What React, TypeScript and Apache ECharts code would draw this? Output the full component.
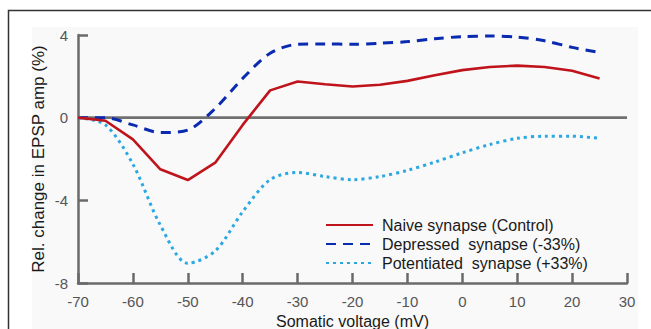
import React, { useEffect, useRef } from "react";
import * as echarts from "echarts";

const voltages = [-70, -65, -60, -55, -50, -45, -40, -35, -30, -25, -20, -15, -10, -5, 0, 5, 10, 15, 20, 25];
const naive = [0, -0.15, -1.05, -2.5, -3.02, -2.18, -0.35, 1.32, 1.75, 1.62, 1.51, 1.59, 1.78, 2.05, 2.3, 2.45, 2.52, 2.45, 2.27, 1.9];
const depressed = [0, 0, -0.35, -0.72, -0.6, 0.45, 1.9, 3.12, 3.55, 3.57, 3.55, 3.6, 3.68, 3.82, 3.92, 3.95, 3.9, 3.72, 3.4, 3.16];
const potentiated = [0, -0.35, -2.25, -5.2, -7.05, -6.45, -4.55, -3.0, -2.65, -2.85, -3.0, -2.85, -2.55, -2.15, -1.7, -1.3, -1.0, -0.9, -0.9, -1.0];
const zeroLine = [[-70, 0], [30, 0]];
const seriesNames = ["Naive synapse (Control)", "Depressed  synapse (-33%)", "Potentiated  synapse (+33%)"];
const xTitle = "Somatic voltage (mV)";
const yTitle = "Rel. change in EPSP amp (%)";

const pair = (ys: number[]) => voltages.map((v, i) => [v, ys[i]]);

export default function App() {
  const ref = useRef<HTMLDivElement>(null);
  useEffect(() => {
    if (!ref.current) return;
    const chart = echarts.init(ref.current, null, { renderer: "svg" });
    const axisColor = "#6a6a6a";
    const font = "Liberation Sans, Arial, sans-serif";
    chart.setOption({
      animation: false,
      backgroundColor: "#ffffff",
      textStyle: { fontFamily: font },
      graphic: [
        { type: "rect", z: -10, shape: { x: 8.5, y: 10.5, width: 700, height: 400 }, style: { fill: "#ffffff", stroke: "#333333", lineWidth: 1.5 } },
        { type: "rect", z: -9, shape: { x: 32, y: 27, width: 606, height: 320 }, style: { fill: "#f9f9f9" } },
      ],
      grid: { left: 78, right: 24, top: 35, bottom: 46, containLabel: false, outerBoundsMode: "none" },
      legend: {
        data: seriesNames,
        orient: "vertical",
        left: 320,
        top: 212,
        itemWidth: 47,
        itemHeight: 14,
        itemGap: 3,
        itemStyle: { opacity: 0 },
        textStyle: { fontSize: 16, color: "#1a1a1a", fontFamily: font, padding: [0, 0, 0, 4] },
      },
      xAxis: {
        type: "value",
        min: -70,
        max: 30,
        interval: 10,
        name: xTitle,
        nameLocation: "middle",
        nameGap: 28,
        nameTextStyle: { fontSize: 16, color: "#1a1a1a" },
        axisLine: { onZero: false, lineStyle: { color: axisColor, width: 2.5 } },
        axisTick: { inside: true, length: 10, lineStyle: { color: axisColor, width: 2.5 } },
        axisLabel: { fontSize: 15, color: "#555555", margin: 11 },
        splitLine: { show: false },
      },
      yAxis: {
        type: "value",
        min: -8,
        max: 4,
        interval: 4,
        name: yTitle,
        nameLocation: "middle",
        nameGap: 31,
        nameMoveOverlap: false,
        nameTextStyle: { fontSize: 17, color: "#1a1a1a" },
        axisLine: { onZero: false, lineStyle: { color: axisColor, width: 2.5 } },
        axisTick: { inside: true, length: 10, lineStyle: { color: axisColor, width: 2.5 } },
        axisLabel: { fontSize: 15, color: "#555555", margin: 10 },
        splitLine: { show: false },
      },
      series: [
        {
          name: "zero",
          type: "line",
          data: zeroLine,
          symbol: "none",
          lineStyle: { color: "#707070", width: 2.8 },
          silent: true,
          z: 1,
        },
        {
          name: seriesNames[0],
          type: "line",
          data: pair(naive),
          symbol: "none",
          color: "#c0141c",
          lineStyle: { color: "#c0141c", width: 2.6 },
          z: 4,
        },
        {
          name: seriesNames[1],
          type: "line",
          data: pair(depressed),
          symbol: "none",
          smooth: 0.3,
          color: "#0a2ab0",
          lineStyle: { color: "#0a2ab0", width: 3, type: [10, 7] },
          z: 3,
        },
        {
          name: seriesNames[2],
          type: "line",
          data: pair(potentiated),
          symbol: "none",
          smooth: 0.3,
          color: "#2aa8e2",
          lineStyle: { color: "#2aa8e2", width: 3, type: [3, 4] },
          z: 3,
        },
      ],
    });
    return () => chart.dispose();
  }, []);
  return <div ref={ref} style={{ position: "fixed", left: 0, top: 0, width: 651, height: 329 }} />;
}
